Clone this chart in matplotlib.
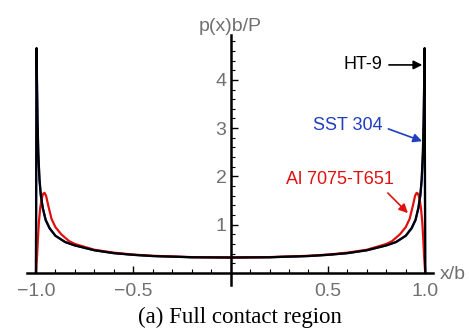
import numpy as np
import matplotlib
matplotlib.use("Agg")
import matplotlib.pyplot as plt

# values
x_ht9 = [-1.0, -0.997, -0.992, -0.988, -0.982, -0.975, -0.965, -0.95, -0.93, -0.9,
         -0.85, -0.8, -0.7, -0.6, -0.5, -0.4, -0.2, 0.0, 0.2, 0.4, 0.5, 0.6, 0.7,
         0.8, 0.85, 0.9, 0.93, 0.95, 0.965, 0.975, 0.982, 0.988, 0.992, 0.997, 1.0]
y_ht9 = [0.0, 4.66, 3.2, 2.5, 1.95, 1.62, 1.35, 1.1, 0.93, 0.77,
         0.64, 0.57, 0.47, 0.41, 0.375, 0.35, 0.325, 0.32, 0.325, 0.35, 0.375, 0.41, 0.47,
         0.57, 0.64, 0.77, 0.93, 1.1, 1.35, 1.62, 1.95, 2.5, 3.2, 4.66, 0.0]

x_sst = [-1.0, -0.997, -0.992, -0.988, -0.982, -0.975, -0.965, -0.95, -0.93, -0.9,
         -0.85, -0.8, -0.7, -0.6, -0.5, -0.4, -0.2, 0.0, 0.2, 0.4, 0.5, 0.6, 0.7,
         0.8, 0.85, 0.9, 0.93, 0.95, 0.965, 0.975, 0.982, 0.988, 0.992, 0.997, 1.0]
y_sst = [0.0, 4.5, 3.1, 2.45, 1.92, 1.6, 1.34, 1.09, 0.92, 0.77,
         0.64, 0.57, 0.47, 0.41, 0.375, 0.35, 0.325, 0.32, 0.325, 0.35, 0.375, 0.41, 0.47,
         0.57, 0.64, 0.77, 0.92, 1.09, 1.34, 1.6, 1.92, 2.45, 3.1, 4.5, 0.0]

x_al = [-1.0, -0.995, -0.99, -0.985, -0.978, -0.97, -0.963, -0.956, -0.948, -0.937,
        -0.92, -0.9, -0.87, -0.83, -0.8, -0.7, -0.6, -0.5, -0.4, -0.2, 0.0,
        0.2, 0.4, 0.5, 0.6, 0.7, 0.8, 0.83, 0.87, 0.9, 0.92, 0.937, 0.948,
        0.956, 0.963, 0.97, 0.978, 0.985, 0.99, 0.995, 1.0]
y_al = [0.0, 0.3, 0.7, 1.05, 1.35, 1.55, 1.64, 1.66, 1.6, 1.4,
        1.12, 0.95, 0.8, 0.66, 0.6, 0.48, 0.42, 0.38, 0.355, 0.328, 0.32,
        0.328, 0.355, 0.38, 0.42, 0.48, 0.6, 0.66, 0.8, 0.95, 1.12, 1.4, 1.6,
        1.66, 1.64, 1.55, 1.35, 1.05, 0.7, 0.3, 0.0]

x_major = [-1.0, -0.5, 0.5, 1.0]
x_labels = ["\u22121.0", "\u22120.5", "0.5", "1.0"]
y_major = [1, 2, 3, 4]
y_labels = ["1", "2", "3", "4"]

plt.rcParams['font.family'] = ['Liberation Sans', 'DejaVu Sans']
gray = '#707070'

fig = plt.figure(figsize=(4.69, 3.29), dpi=100)
ax = fig.add_axes([27 / 469, 44 / 329, 406 / 469, 250 / 329])

ax.plot(x_sst, y_sst, color='#1f3fbf', lw=1.6)
ax.plot(x_al, y_al, color='#e01010', lw=1.6)
ax.plot(x_ht9, y_ht9, color='black', lw=1.6)

ax.set_xlim(-1.046, 1.04)
ax.set_ylim(-0.25, 4.93)

ax.spines['left'].set_position(('data', 0))
ax.spines['bottom'].set_position(('data', 0))
ax.spines['right'].set_visible(False)
ax.spines['top'].set_visible(False)
ax.spines['left'].set_linewidth(1.8)
ax.spines['bottom'].set_linewidth(1.8)

ax.set_xticks(x_major)
ax.set_xticklabels(x_labels)
ax.set_xticks([v / 10 for v in range(-9, 10) if v not in (-5, 0, 5)], minor=True)
ax.set_yticks(y_major)
ax.set_yticklabels(y_labels)
ax.set_yticks([v / 10 for v in range(2, 49, 2) if v % 10 != 0], minor=True)

ax.tick_params(axis='both', which='major', direction='in', length=5, width=1.0,
               labelsize=14, labelcolor=gray)
ax.tick_params(axis='both', which='minor', direction='in', length=3, width=0.8)
ax.tick_params(axis='x', which='major', pad=7)
ax.tick_params(axis='y', which='major', pad=3)

ax.text(0, 1.0, "p(x)b/P", transform=ax.get_xaxis_transform(), ha='center',
        va='bottom', fontsize=14, color=gray)
ax.text(1.017, -0.04, "x/b", transform=ax.get_yaxis_transform(), ha='left',
        va='center', fontsize=14, color=gray)

ax.annotate("HT-9", xy=(0.985, 4.31), xytext=(0.778, 4.31), ha='right', va='center',
            fontsize=13, color='black',
            arrowprops=dict(arrowstyle='-|>', color='black', lw=1.2,
                            mutation_scale=13, relpos=(1.0, 0.5), shrinkA=3, shrinkB=0))
ax.annotate("SST 304", xy=(0.984, 2.73), xytext=(0.783, 3.06), ha='right', va='center',
            fontsize=13, color='#1f3fbf',
            arrowprops=dict(arrowstyle='-|>', color='#1f3fbf', lw=1.2,
                            mutation_scale=13, relpos=(1.0, 0.4), shrinkA=2, shrinkB=0))
ax.annotate("Al 7075-T651", xy=(0.911, 1.24), xytext=(0.562, 1.93), ha='center', va='center',
            fontsize=13, color='#e01010',
            arrowprops=dict(arrowstyle='-|>', color='#e01010', lw=1.2,
                            mutation_scale=13, relpos=(0.9, 0.0), shrinkA=2, shrinkB=0))

fig.text(240 / 469, 1 - 317 / 329, "(a) Full contact region", ha='center', va='center',
         fontsize=16.5, family=['Liberation Serif', 'DejaVu Serif'], color='black')

fig.savefig("out.png", dpi=100)
